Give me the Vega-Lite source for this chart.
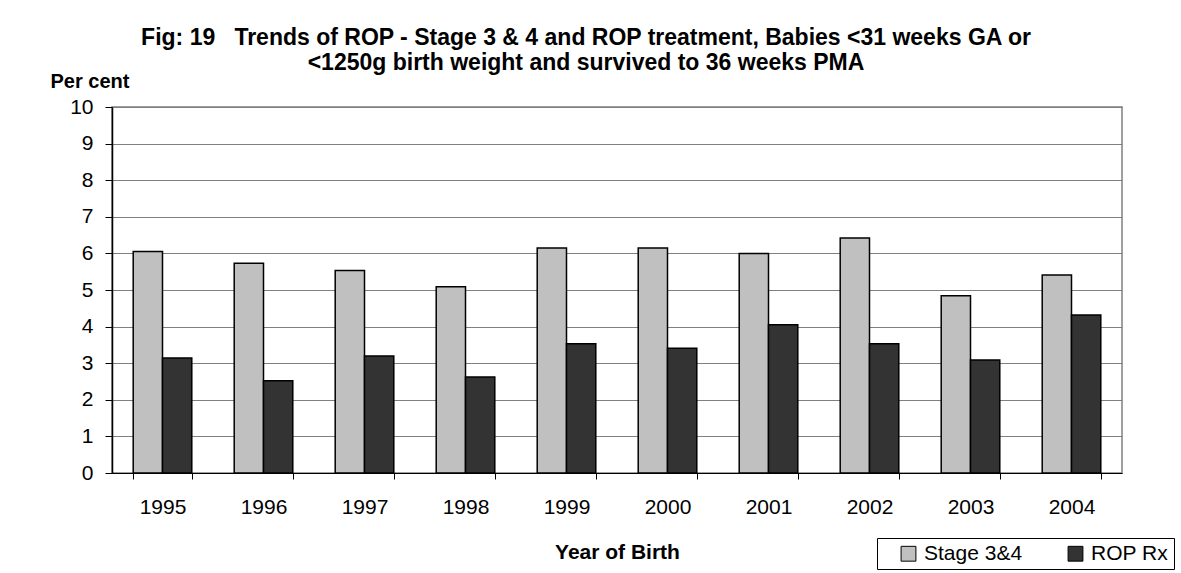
{
  "$schema": "https://vega.github.io/schema/vega-lite/v6.json",
  "autosize": "none",
  "width": 1010,
  "height": 366,
  "padding": {"left": 112, "top": 107, "right": 59, "bottom": 100},
  "background": "white",
  "config": {
    "font": "Liberation Sans",
    "view": {"stroke": "#808080", "strokeWidth": 1.5},
    "axis": {"labelColor": "black", "titleColor": "black", "labelFont": "Liberation Sans", "titleFont": "Liberation Sans"}
  },
  "title": {
    "text": ["Fig: 19\u00a0\u00a0\u00a0Trends of ROP - Stage 3 & 4 and ROP treatment, Babies <31 weeks GA or", "<1250g birth weight and survived to 36 weeks PMA"],
    "fontSize": 23,
    "fontWeight": "bold",
    "color": "black",
    "anchor": "middle",
    "frame": "group",
    "dx": -31,
    "offset": -4,
    "lineHeight": 25
  },
  "data": {
    "values": [
      {"year": "1995", "series": "Stage 3&4", "value": 6.05},
      {"year": "1995", "series": "ROP Rx", "value": 3.14},
      {"year": "1996", "series": "Stage 3&4", "value": 5.73},
      {"year": "1996", "series": "ROP Rx", "value": 2.52},
      {"year": "1997", "series": "Stage 3&4", "value": 5.53},
      {"year": "1997", "series": "ROP Rx", "value": 3.2},
      {"year": "1998", "series": "Stage 3&4", "value": 5.09},
      {"year": "1998", "series": "ROP Rx", "value": 2.62},
      {"year": "1999", "series": "Stage 3&4", "value": 6.15},
      {"year": "1999", "series": "ROP Rx", "value": 3.53},
      {"year": "2000", "series": "Stage 3&4", "value": 6.15},
      {"year": "2000", "series": "ROP Rx", "value": 3.41},
      {"year": "2001", "series": "Stage 3&4", "value": 6.0},
      {"year": "2001", "series": "ROP Rx", "value": 4.05},
      {"year": "2002", "series": "Stage 3&4", "value": 6.42},
      {"year": "2002", "series": "ROP Rx", "value": 3.53},
      {"year": "2003", "series": "Stage 3&4", "value": 4.84},
      {"year": "2003", "series": "ROP Rx", "value": 3.09},
      {"year": "2004", "series": "Stage 3&4", "value": 5.41},
      {"year": "2004", "series": "ROP Rx", "value": 4.32}
    ]
  },
  "mark": {"type": "bar", "stroke": "black", "strokeWidth": 1.5},
  "encoding": {
    "x": {
      "field": "year",
      "type": "nominal",
      "scale": {"paddingInner": 0.42, "paddingOuter": 0.21},
      "axis": {
        "title": "Year of Birth",
        "titleFontSize": 21,
        "titleFontWeight": "bold",
        "titlePadding": 24,
        "labelAngle": 0,
        "labelFontSize": 21,
        "labelPadding": 17,
        "tickBand": "extent",
        "tickColor": "black",
        "tickSize": 6,
        "domainColor": "black",
        "domainWidth": 1
      }
    },
    "xOffset": {"field": "series", "type": "nominal", "sort": ["Stage 3&4", "ROP Rx"], "scale": {"paddingInner": 0, "paddingOuter": 0}},
    "y": {
      "field": "value",
      "type": "quantitative",
      "scale": {"domain": [0, 10], "nice": false},
      "axis": {
        "title": "Per cent",
        "titleAngle": 0,
        "titleFontSize": 20,
        "titleFontWeight": "bold",
        "titleAlign": "left",
        "titleBaseline": "alphabetic",
        "titleX": -62,
        "titleY": -20,
        "values": [0, 1, 2, 3, 4, 5, 6, 7, 8, 9, 10],
        "labelFontSize": 21,
        "labelPadding": 12,
        "tickColor": "black",
        "tickSize": 7,
        "domainColor": "black",
        "domainWidth": 1.5,
        "grid": true,
        "gridColor": "#808080",
        "gridWidth": 1
      }
    },
    "color": {
      "field": "series",
      "type": "nominal",
      "sort": ["Stage 3&4", "ROP Rx"],
      "scale": {"domain": ["Stage 3&4", "ROP Rx"], "range": ["#C0C0C0", "#333333"]},
      "legend": {
        "title": " ",
        "titleOrient": "left",
        "titlePadding": 16,
        "titleFontSize": 10,
        "orient": "none",
        "legendX": 765,
        "legendY": 431,
        "direction": "horizontal",
        "symbolType": "square",
        "symbolSize": 220,
        "symbolStrokeColor": "black",
        "symbolStrokeWidth": 1,
        "labelFontSize": 21,
        "labelColor": "black",
        "labelOffset": 5,
        "columnPadding": 42,
        "padding": 5,
        "strokeColor": "black",
        "fillColor": "white"
      }
    }
  }
}
